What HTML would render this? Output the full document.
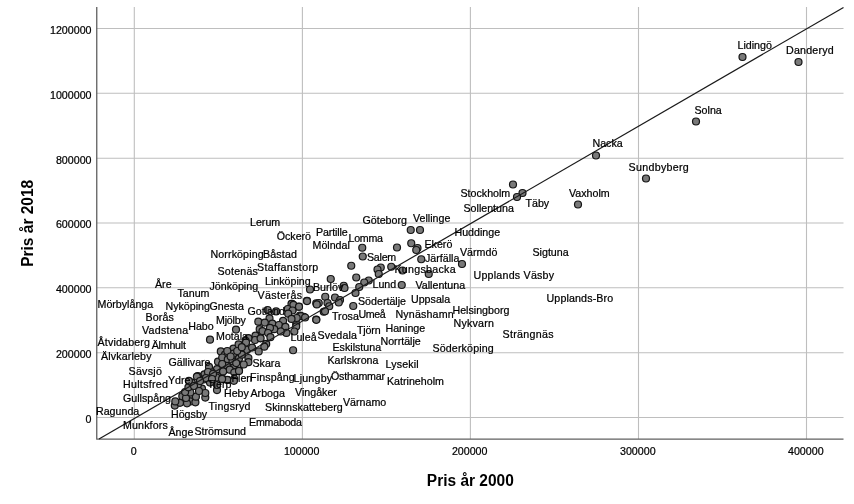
<!DOCTYPE html>
<html><head><meta charset="utf-8"><title>Scatter</title>
<style>html,body{margin:0;padding:0;background:#fff;}body{width:854px;height:504px;overflow:hidden;position:relative;font-family:"Liberation Sans",sans-serif;}</style></head>
<body>
<svg width="854" height="504" viewBox="0 0 854 504" style="position:absolute;left:0;top:0;filter:grayscale(1);font-family:'Liberation Sans',sans-serif">
<rect width="854" height="504" fill="#fff"/>
<line x1="134.3" y1="7" x2="134.3" y2="439" stroke="#bebebe" stroke-width="1.1"/>
<line x1="302.4" y1="7" x2="302.4" y2="439" stroke="#bebebe" stroke-width="1.1"/>
<line x1="470.4" y1="7" x2="470.4" y2="439" stroke="#bebebe" stroke-width="1.1"/>
<line x1="638.5" y1="7" x2="638.5" y2="439" stroke="#bebebe" stroke-width="1.1"/>
<line x1="806.5" y1="7" x2="806.5" y2="439" stroke="#bebebe" stroke-width="1.1"/>
<line x1="96.5" y1="417.5" x2="843.5" y2="417.5" stroke="#bebebe" stroke-width="1.1"/>
<line x1="96.5" y1="352.7" x2="843.5" y2="352.7" stroke="#bebebe" stroke-width="1.1"/>
<line x1="96.5" y1="287.8" x2="843.5" y2="287.8" stroke="#bebebe" stroke-width="1.1"/>
<line x1="96.5" y1="223.0" x2="843.5" y2="223.0" stroke="#bebebe" stroke-width="1.1"/>
<line x1="96.5" y1="158.2" x2="843.5" y2="158.2" stroke="#bebebe" stroke-width="1.1"/>
<line x1="96.5" y1="93.3" x2="843.5" y2="93.3" stroke="#bebebe" stroke-width="1.1"/>
<line x1="96.5" y1="28.5" x2="843.5" y2="28.5" stroke="#bebebe" stroke-width="1.1"/>
<path d="M96.75,7 L96.75,439.15 L843.5,439.15" fill="none" stroke="#606060" stroke-width="1.3" stroke-linejoin="round"/>
<g fill="#797979" stroke="#141414" stroke-width="1.2">
<circle cx="742.5" cy="57" r="3.5"/>
<circle cx="798.5" cy="62" r="3.5"/>
<circle cx="696" cy="121.5" r="3.5"/>
<circle cx="596" cy="155.5" r="3.5"/>
<circle cx="646" cy="178.5" r="3.5"/>
<circle cx="513" cy="184.5" r="3.5"/>
<circle cx="522.5" cy="193" r="3.5"/>
<circle cx="517" cy="197" r="3.5"/>
<circle cx="578" cy="204.5" r="3.5"/>
<circle cx="410.75" cy="230" r="3.5"/>
<circle cx="420" cy="230" r="3.5"/>
<circle cx="411.25" cy="243.25" r="3.5"/>
<circle cx="397" cy="247.5" r="3.5"/>
<circle cx="417.5" cy="248" r="3.5"/>
<circle cx="416.25" cy="250" r="3.5"/>
<circle cx="362.25" cy="247.75" r="3.5"/>
<circle cx="362.75" cy="256.5" r="3.5"/>
<circle cx="421.25" cy="259.25" r="3.5"/>
<circle cx="462" cy="264" r="3.5"/>
<circle cx="351.25" cy="265.75" r="3.5"/>
<circle cx="380.75" cy="267.5" r="3.5"/>
<circle cx="391.25" cy="266.75" r="3.5"/>
<circle cx="377.5" cy="269.5" r="3.5"/>
<circle cx="402.5" cy="270.5" r="3.5"/>
<circle cx="378.75" cy="274" r="3.5"/>
<circle cx="428.75" cy="274" r="3.5"/>
<circle cx="356.25" cy="277.5" r="3.5"/>
<circle cx="330.75" cy="279" r="3.5"/>
<circle cx="368.75" cy="280.5" r="3.5"/>
<circle cx="364.25" cy="282.5" r="3.5"/>
<circle cx="401.75" cy="285" r="3.5"/>
<circle cx="343.75" cy="285.75" r="3.5"/>
<circle cx="344.5" cy="288" r="3.5"/>
<circle cx="359.25" cy="287" r="3.5"/>
<circle cx="310" cy="289.5" r="3.5"/>
<circle cx="355.5" cy="293" r="3.5"/>
<circle cx="325.25" cy="296.75" r="3.5"/>
<circle cx="335" cy="297.5" r="3.5"/>
<circle cx="340" cy="300" r="3.5"/>
<circle cx="338.75" cy="302.5" r="3.5"/>
<circle cx="307" cy="300.75" r="3.5"/>
<circle cx="316.25" cy="303.25" r="3.5"/>
<circle cx="318.75" cy="303" r="3.5"/>
<circle cx="327.5" cy="303" r="3.5"/>
<circle cx="329.25" cy="306.25" r="3.5"/>
<circle cx="353.25" cy="306" r="3.5"/>
<circle cx="298.75" cy="306.75" r="3.5"/>
<circle cx="323.75" cy="311.75" r="3.5"/>
<circle cx="325" cy="311.25" r="3.5"/>
<circle cx="316.25" cy="319.5" r="3.5"/>
<circle cx="292" cy="303.75" r="3.5"/>
<circle cx="292.5" cy="310" r="3.5"/>
<circle cx="300" cy="315.5" r="3.5"/>
<circle cx="303.75" cy="316.75" r="3.5"/>
<circle cx="296.25" cy="323.75" r="3.5"/>
<circle cx="210" cy="339.7" r="3.5"/>
<circle cx="236" cy="329.6" r="3.5"/>
<circle cx="293.1" cy="350.25" r="3.5"/>
<circle cx="307" cy="301.1" r="3.5"/>
<circle cx="316.8" cy="304.4" r="3.5"/>
<circle cx="316.3" cy="319.8" r="3.5"/>
<circle cx="291.5" cy="303.9" r="3.5"/>
<circle cx="293.4" cy="304.8" r="3.5"/>
<circle cx="299" cy="306.7" r="3.5"/>
<circle cx="287.8" cy="309" r="3.5"/>
<circle cx="292.5" cy="310.5" r="3.5"/>
<circle cx="288.2" cy="313.7" r="3.5"/>
<circle cx="300.9" cy="316.1" r="3.5"/>
<circle cx="305.1" cy="317.5" r="3.5"/>
<circle cx="296.7" cy="318" r="3.5"/>
<circle cx="291.5" cy="318.9" r="3.5"/>
<circle cx="267.6" cy="310" r="3.5"/>
<circle cx="276.1" cy="311.4" r="3.5"/>
<circle cx="269.5" cy="318.4" r="3.5"/>
<circle cx="258.3" cy="321.7" r="3.5"/>
<circle cx="264.8" cy="322.6" r="3.5"/>
<circle cx="272.3" cy="323.6" r="3.5"/>
<circle cx="283.1" cy="320.8" r="3.5"/>
<circle cx="278.9" cy="325" r="3.5"/>
<circle cx="285.4" cy="326.9" r="3.5"/>
<circle cx="296.2" cy="326.4" r="3.5"/>
<circle cx="294.3" cy="331.5" r="3.5"/>
<circle cx="286.4" cy="332.9" r="3.5"/>
<circle cx="280.7" cy="331.5" r="3.5"/>
<circle cx="274.2" cy="329.2" r="3.5"/>
<circle cx="270" cy="327.8" r="3.5"/>
<circle cx="259.7" cy="329.2" r="3.5"/>
<circle cx="262.5" cy="331.1" r="3.5"/>
<circle cx="268.1" cy="333" r="3.5"/>
<circle cx="270.4" cy="337.2" r="3.5"/>
<circle cx="260.1" cy="338.1" r="3.5"/>
<circle cx="255.5" cy="335.7" r="3.5"/>
<circle cx="255" cy="340" r="3.5"/>
<circle cx="248.4" cy="338.1" r="3.5"/>
<circle cx="245.6" cy="340.9" r="3.5"/>
<circle cx="220.8" cy="351.4" r="3.5"/>
<circle cx="225" cy="354.7" r="3.5"/>
<circle cx="233.4" cy="348.6" r="3.5"/>
<circle cx="238.6" cy="344.4" r="3.5"/>
<circle cx="246" cy="342.5" r="3.5"/>
<circle cx="260.6" cy="338.3" r="3.5"/>
<circle cx="266.2" cy="343.9" r="3.5"/>
<circle cx="264.3" cy="346.7" r="3.5"/>
<circle cx="258.7" cy="351.4" r="3.5"/>
<circle cx="247" cy="350" r="3.5"/>
<circle cx="252.1" cy="347.6" r="3.5"/>
<circle cx="248.4" cy="358" r="3.5"/>
<circle cx="248.4" cy="362.2" r="3.5"/>
<circle cx="243.7" cy="364.5" r="3.5"/>
<circle cx="239" cy="370.6" r="3.5"/>
<circle cx="218" cy="361.7" r="3.5"/>
<circle cx="209" cy="366.9" r="3.5"/>
<circle cx="223.6" cy="370.6" r="3.5"/>
<circle cx="217" cy="369.2" r="3.5"/>
<circle cx="228.7" cy="363.1" r="3.5"/>
<circle cx="233.4" cy="353.7" r="3.5"/>
<circle cx="222.2" cy="357.5" r="3.5"/>
<circle cx="227.8" cy="359.4" r="3.5"/>
<circle cx="234.3" cy="365" r="3.5"/>
<circle cx="232.5" cy="361.2" r="3.5"/>
<circle cx="239" cy="358.4" r="3.5"/>
<circle cx="241.8" cy="354.7" r="3.5"/>
<circle cx="237.2" cy="351" r="3.5"/>
<circle cx="241.8" cy="347.2" r="3.5"/>
<circle cx="227.3" cy="351" r="3.5"/>
<circle cx="230.6" cy="356.5" r="3.5"/>
<circle cx="236.2" cy="363.1" r="3.5"/>
<circle cx="226.8" cy="365.9" r="3.5"/>
<circle cx="222.2" cy="364" r="3.5"/>
<circle cx="229.7" cy="369.7" r="3.5"/>
<circle cx="234.3" cy="372.5" r="3.5"/>
<circle cx="211.9" cy="372.5" r="3.5"/>
<circle cx="204.4" cy="374.3" r="3.5"/>
<circle cx="197.8" cy="376.2" r="3.5"/>
<circle cx="217.5" cy="376.2" r="3.5"/>
<circle cx="223.1" cy="379" r="3.5"/>
<circle cx="227.8" cy="380" r="3.5"/>
<circle cx="234.3" cy="379" r="3.5"/>
<circle cx="174.8" cy="405.6" r="3.5"/>
<circle cx="180" cy="402.8" r="3.5"/>
<circle cx="175.3" cy="401.4" r="3.5"/>
<circle cx="182.3" cy="396.2" r="3.5"/>
<circle cx="190.3" cy="396.7" r="3.5"/>
<circle cx="190.3" cy="401.4" r="3.5"/>
<circle cx="195.4" cy="402.3" r="3.5"/>
<circle cx="187" cy="403.3" r="3.5"/>
<circle cx="195.9" cy="396.7" r="3.5"/>
<circle cx="186" cy="398" r="3.5"/>
<circle cx="190.3" cy="392.5" r="3.5"/>
<circle cx="185.1" cy="392" r="3.5"/>
<circle cx="205.3" cy="397.6" r="3.5"/>
<circle cx="202" cy="388.7" r="3.5"/>
<circle cx="197.8" cy="385" r="3.5"/>
<circle cx="205.3" cy="393" r="3.5"/>
<circle cx="188.4" cy="387.3" r="3.5"/>
<circle cx="191.7" cy="382.6" r="3.5"/>
<circle cx="188.9" cy="380.8" r="3.5"/>
<circle cx="196.9" cy="376.6" r="3.5"/>
<circle cx="203.9" cy="379.4" r="3.5"/>
<circle cx="217" cy="390.1" r="3.5"/>
<circle cx="217" cy="385" r="3.5"/>
<circle cx="216.5" cy="377.5" r="3.5"/>
<circle cx="210" cy="382.6" r="3.5"/>
<circle cx="227.3" cy="379.8" r="3.5"/>
<circle cx="233.9" cy="380.8" r="3.5"/>
<circle cx="222.1" cy="378.9" r="3.5"/>
<circle cx="223.1" cy="371.4" r="3.5"/>
<circle cx="239" cy="370.9" r="3.5"/>
<circle cx="208" cy="372" r="3.5"/>
<circle cx="213" cy="374" r="3.5"/>
<circle cx="206" cy="378" r="3.5"/>
<circle cx="200" cy="381" r="3.5"/>
<circle cx="194" cy="386" r="3.5"/>
<circle cx="199" cy="391" r="3.5"/>
<circle cx="212" cy="379" r="3.5"/>
</g>
<line x1="99" y1="439" x2="843.5" y2="7.4" stroke="#1a1a1a" stroke-width="1.2"/>
<g font-size="10.67px" fill="#000" stroke="#000" stroke-width="0.22">
<text x="250.00" y="226.30">Lerum</text>
<text x="276.70" y="240.30">Öckerö</text>
<text x="316.00" y="236.30" textLength="31.6" lengthAdjust="spacing">Partille</text>
<text x="348.50" y="242.30" textLength="34.5" lengthAdjust="spacing">Lomma</text>
<text x="312.50" y="249.30">Mölndal</text>
<text x="362.50" y="223.80">Göteborg</text>
<text x="413.00" y="222.30">Vellinge</text>
<text x="210.50" y="257.80" textLength="53.1" lengthAdjust="spacing">Norrköping</text>
<text x="263.00" y="258.30" textLength="34.0" lengthAdjust="spacing">Båstad</text>
<text x="217.50" y="275.30" textLength="40.4" lengthAdjust="spacing">Sotenäs</text>
<text x="257.00" y="270.80" textLength="61.3" lengthAdjust="spacing">Staffanstorp</text>
<text x="155.00" y="288.30">Åre</text>
<text x="209.50" y="289.80">Jönköping</text>
<text x="265.00" y="285.30">Linköping</text>
<text x="177.50" y="296.80">Tanum</text>
<text x="257.50" y="298.80" textLength="44.6" lengthAdjust="spacing">Västerås</text>
<text x="97.50" y="307.80">Mörbylånga</text>
<text x="165.50" y="310.30">Nyköping</text>
<text x="209.50" y="310.30">Gnesta</text>
<text x="247.50" y="314.80">Gotland</text>
<text x="145.50" y="321.10" textLength="28.3" lengthAdjust="spacing">Borås</text>
<text x="216.00" y="324.10" textLength="29.8" lengthAdjust="spacing">Mjölby</text>
<text x="188.20" y="330.30">Habo</text>
<text x="142.00" y="334.10" textLength="46.2" lengthAdjust="spacing">Vadstena</text>
<text x="216.00" y="339.70">Motala</text>
<text x="97.50" y="346.10" textLength="52.5" lengthAdjust="spacing">Åtvidaberg</text>
<text x="151.70" y="348.80" textLength="34.2" lengthAdjust="spacing">Älmhult</text>
<text x="101.00" y="359.70" textLength="50.5" lengthAdjust="spacing">Älvkarleby</text>
<text x="168.50" y="365.80">Gällivare</text>
<text x="252.50" y="366.80">Skara</text>
<text x="128.50" y="374.80" textLength="33.4" lengthAdjust="spacing">Sävsjö</text>
<text x="168.00" y="383.80">Ydre</text>
<text x="123.00" y="388.30" textLength="45.0" lengthAdjust="spacing">Hultsfred</text>
<text x="231.50" y="381.80">Flen</text>
<text x="250.00" y="380.80" textLength="44.8" lengthAdjust="spacing">Finspång</text>
<text x="207.50" y="387.80">Tierp</text>
<text x="224.00" y="396.80">Heby</text>
<text x="250.50" y="396.80">Arboga</text>
<text x="123.00" y="401.80">Gullspång</text>
<text x="208.50" y="409.80" textLength="41.9" lengthAdjust="spacing">Tingsryd</text>
<text x="265.00" y="410.80" textLength="77.8" lengthAdjust="spacing">Skinnskatteberg</text>
<text x="96.00" y="415.20">Ragunda</text>
<text x="171.00" y="418.30">Högsby</text>
<text x="249.00" y="425.80" textLength="53.0" lengthAdjust="spacing">Emmaboda</text>
<text x="123.00" y="428.80" textLength="44.8" lengthAdjust="spacing">Munkfors</text>
<text x="168.50" y="436.30">Ånge</text>
<text x="194.50" y="434.80">Strömsund</text>
<text x="293.50" y="381.80" textLength="38.6" lengthAdjust="spacing">Ljungby</text>
<text x="290.50" y="340.80">Luleå</text>
<text x="463.50" y="212.30">Sollentuna</text>
<text x="454.50" y="235.80">Huddinge</text>
<text x="424.50" y="247.80">Ekerö</text>
<text x="460.00" y="255.80">Värmdö</text>
<text x="367.00" y="261.30" textLength="29.2" lengthAdjust="spacing">Salem</text>
<text x="425.00" y="261.80">Järfälla</text>
<text x="394.50" y="273.30" textLength="61.1" lengthAdjust="spacing">Kungsbacka</text>
<text x="473.50" y="278.80" textLength="80.6" lengthAdjust="spacing">Upplands Väsby</text>
<text x="313.00" y="290.70">Burlöv</text>
<text x="372.50" y="288.30">Lund</text>
<text x="415.50" y="288.80">Vallentuna</text>
<text x="358.00" y="304.80">Södertälje</text>
<text x="411.00" y="303.30">Uppsala</text>
<text x="332.00" y="319.80">Trosa</text>
<text x="358.50" y="317.80" textLength="27.2" lengthAdjust="spacing">Umeå</text>
<text x="395.50" y="317.80" textLength="58.1" lengthAdjust="spacing">Nynäshamn</text>
<text x="452.50" y="313.80">Helsingborg</text>
<text x="453.50" y="326.80" textLength="40.4" lengthAdjust="spacing">Nykvarn</text>
<text x="317.50" y="339.10" textLength="39.5" lengthAdjust="spacing">Svedala</text>
<text x="357.00" y="334.00" textLength="23.7" lengthAdjust="spacing">Tjörn</text>
<text x="385.50" y="331.80">Haninge</text>
<text x="380.50" y="344.80">Norrtälje</text>
<text x="332.50" y="350.80">Eskilstuna</text>
<text x="432.50" y="351.80" textLength="61.2" lengthAdjust="spacing">Söderköping</text>
<text x="327.50" y="363.80">Karlskrona</text>
<text x="385.50" y="367.80" textLength="33.2" lengthAdjust="spacing">Lysekil</text>
<text x="331.00" y="380.30" textLength="54.1" lengthAdjust="spacing">Östhammar</text>
<text x="387.00" y="385.30" textLength="56.9" lengthAdjust="spacing">Katrineholm</text>
<text x="295.00" y="396.30">Vingåker</text>
<text x="343.00" y="406.30">Värnamo</text>
<text x="737.50" y="48.80">Lidingö</text>
<text x="786.00" y="53.50" textLength="47.6" lengthAdjust="spacing">Danderyd</text>
<text x="694.50" y="113.50">Solna</text>
<text x="592.50" y="146.50">Nacka</text>
<text x="628.50" y="170.80" textLength="60.3" lengthAdjust="spacing">Sundbyberg</text>
<text x="460.50" y="197.00">Stockholm</text>
<text x="525.50" y="207.00">Täby</text>
<text x="569.00" y="196.50">Vaxholm</text>
<text x="532.50" y="255.50">Sigtuna</text>
<text x="546.50" y="301.50" textLength="66.7" lengthAdjust="spacing">Upplands-Bro</text>
<text x="502.50" y="338.00" textLength="51.1" lengthAdjust="spacing">Strängnäs</text>
</g>
<g font-size="10.67px" fill="#000" stroke="#000" stroke-width="0.22">
<text x="133.6" y="454.5" text-anchor="middle">0</text>
<text x="301.7" y="454.5" text-anchor="middle">100000</text>
<text x="469.7" y="454.5" text-anchor="middle">200000</text>
<text x="637.8" y="454.5" text-anchor="middle">300000</text>
<text x="805.8" y="454.5" text-anchor="middle">400000</text>
<text x="91.5" y="422.8" text-anchor="end">0</text>
<text x="91.5" y="358.0" text-anchor="end">200000</text>
<text x="91.5" y="293.1" text-anchor="end">400000</text>
<text x="91.5" y="228.3" text-anchor="end">600000</text>
<text x="91.5" y="163.5" text-anchor="end">800000</text>
<text x="91.5" y="98.6" text-anchor="end">1000000</text>
<text x="91.5" y="33.8" text-anchor="end">1200000</text>
</g>
<text x="470.3" y="485.5" text-anchor="middle" font-size="16px" font-weight="bold" textLength="87" lengthAdjust="spacingAndGlyphs">Pris år 2000</text>
<text transform="translate(33.4,223.3) rotate(-90)" text-anchor="middle" font-size="16px" font-weight="bold" textLength="87" lengthAdjust="spacingAndGlyphs">Pris år 2018</text>
</svg>
</body></html>
